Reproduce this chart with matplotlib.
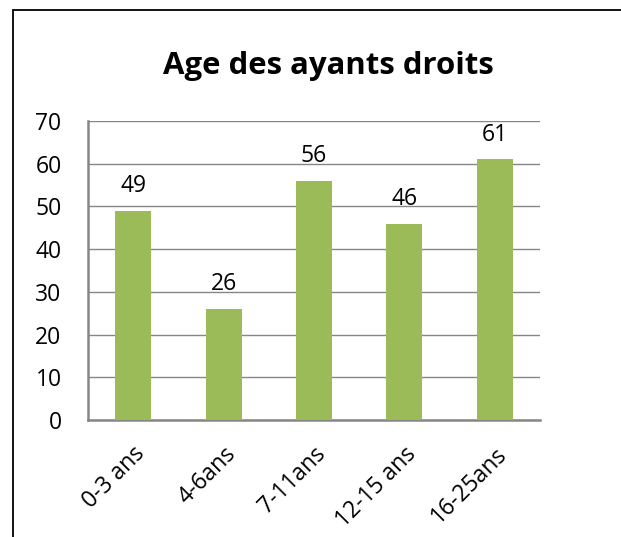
import matplotlib
matplotlib.use('Agg')
import matplotlib.pyplot as plt
from matplotlib.patches import Rectangle

categories = ['0-3 ans', '4-6ans', '7-11ans', '12-15 ans', '16-25ans']
values = [49, 26, 56, 46, 61]
yticks = [0, 10, 20, 30, 40, 50, 60, 70]

plt.rcParams['font.family'] = ['Open Sans', 'DejaVu Sans']

fig = plt.figure(figsize=(6.21, 5.37), dpi=100)
W, H = 621, 537
ax = fig.add_axes([88 / W, 1 - 420 / H, (540 - 88) / W, (420 - 121) / H])

grid_col = '#868686'
x = range(len(categories))
bars = ax.bar(x, values, width=0.4, color='#9BBB59', zorder=3)

ax.set_xlim(-0.5, len(categories) - 0.5)
ax.set_ylim(0, 70)
ax.set_yticks(yticks)
ax.yaxis.grid(True, color=grid_col, linewidth=1, zorder=0)
ax.set_xticks(list(x))
ax.set_xticklabels(categories, rotation=45, ha='right', rotation_mode='anchor', fontsize=16.5)
ax.tick_params(axis='y', labelsize=16.5, length=0, pad=19)
ax.tick_params(axis='x', length=0, pad=16)

for s in ['top', 'right']:
    ax.spines[s].set_visible(False)
for s in ['left', 'bottom']:
    ax.spines[s].set_color(grid_col)
    ax.spines[s].set_linewidth(1.8)

for b, v in zip(bars, values):
    ax.annotate(str(v), (b.get_x() + b.get_width() / 2, v), xytext=(0, 9),
                textcoords='offset points', ha='center', va='bottom', fontsize=16.5)

fig.text(328 / W, 1 - 66 / H, 'Age des ayants droits', ha='center', va='center',
         fontsize=22.4, fontweight='bold')

# outer chart frame (only left and top edges visible in the crop)
fig.patches.append(Rectangle((12.5 / W, -0.1), 1.2, 1 - 9.5 / H + 0.1, transform=fig.transFigure,
                             fill=False, edgecolor='black', linewidth=1.3))

fig.savefig('out.png', dpi=100)
